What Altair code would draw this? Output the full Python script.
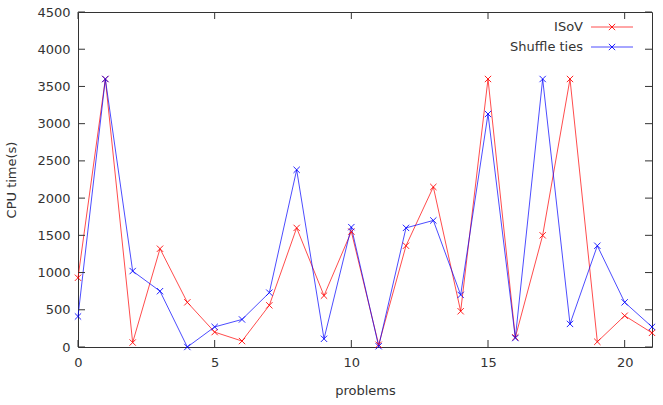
import altair as alt
import pandas as pd

# CPU time per problem for the two tie-breaking strategies
problems = list(range(22))
isov = [930, 3600, 60, 1320, 600, 200, 80, 560, 1600, 690, 1550,
        30, 1360, 2150, 480, 3600, 130, 1500, 3600, 70, 420, 190]
shuffle_ties = [410, 3600, 1020, 750, 0, 270, 370, 730, 2380, 110, 1610,
                10, 1600, 1700, 700, 3130, 120, 3600, 310, 1360, 600, 270]

series_names = ["ISoV", "Shuffle ties"]
series_colors = ["#ff0000", "#0000ff"]

x_ticks = [0, 5, 10, 15, 20]
y_ticks = [0, 500, 1000, 1500, 2000, 2500, 3000, 3500, 4000, 4500]

W, H = 574, 335
TICK = 7
FONT = "DejaVu Sans"
TEXT = "#333333"
XMARK = "M-1,-1L1,1M-1,1L1,-1"

df = pd.DataFrame({
    "problem": problems * 2,
    "time": isov + shuffle_ties,
    "series": [series_names[0]] * len(isov) + [series_names[1]] * len(shuffle_ties),
})

x_scale = alt.Scale(domain=[0, 21], nice=False, zero=False)
y_scale = alt.Scale(domain=[0, 4500], nice=False)
color_scale = alt.Scale(domain=series_names, range=series_colors)

x_enc = alt.X("problem:Q", scale=x_scale,
              axis=alt.Axis(values=x_ticks, title="problems", grid=False,
                            tickSize=0, domain=False, labelPadding=9,
                            titlePadding=15, format="d",
                            labelFlush=False, labelOverlap=False))
y_enc = alt.Y("time:Q", scale=y_scale,
              axis=alt.Axis(values=y_ticks, title="CPU time(s)", grid=False,
                            tickSize=0, domain=False, labelPadding=8,
                            titlePadding=18, format="d",
                            labelFlush=False, labelOverlap=False))
c_enc = alt.Color("series:N", scale=color_scale, legend=None)

base = alt.Chart(df)
lines = base.mark_line(strokeWidth=1, opacity=0.7).encode(x=x_enc, y=y_enc, color=c_enc)
points = base.mark_point(shape=XMARK, size=40, filled=False, strokeWidth=1,
                         opacity=0.85).encode(x=x_enc, y=y_enc, color=c_enc)

# Inward tick marks on all four sides of the frame
xt = alt.Chart(pd.DataFrame({"problem": x_ticks}))
yt = alt.Chart(pd.DataFrame({"time": y_ticks}))
tick_style = dict(color="#333333", strokeWidth=1)
ticks_bottom = xt.mark_rule(**tick_style).encode(
    x=x_enc, y=alt.value(H), y2=alt.value(H - TICK))
ticks_top = xt.mark_rule(**tick_style).encode(
    x=x_enc, y=alt.value(0), y2=alt.value(TICK))
ticks_left = yt.mark_rule(**tick_style).encode(
    y=y_enc, x=alt.value(0), x2=alt.value(TICK))
ticks_right = yt.mark_rule(**tick_style).encode(
    y=y_enc, x=alt.value(W - TICK), x2=alt.value(W))

# Key in the upper right corner: label, then a line sample with its marker
legend_layers = []
for i, (name, col) in enumerate(zip(series_names, series_colors)):
    ky = 15 + 20 * i
    row = alt.Chart(pd.DataFrame({"series": [name]}))
    legend_layers.append(row.mark_text(align="right", baseline="middle", font=FONT,
                                       fontSize=13, color=TEXT).encode(
        x=alt.value(505), y=alt.value(ky), text="series:N"))
    legend_layers.append(row.mark_rule(color=col, strokeWidth=1, opacity=0.7).encode(
        x=alt.value(513), x2=alt.value(555), y=alt.value(ky)))
    legend_layers.append(row.mark_point(shape=XMARK, size=40, filled=False,
                                        strokeWidth=1, color=col, opacity=0.85).encode(
        x=alt.value(534), y=alt.value(ky)))

chart = alt.layer(
    lines, points, ticks_bottom, ticks_top, ticks_left, ticks_right, *legend_layers
).properties(
    width=W, height=H,
    autosize=alt.AutoSizeParams(type="none"),
    padding={"left": 78, "top": 12, "right": 11, "bottom": 58},
    background="white",
).configure_view(
    stroke="#333333", strokeWidth=1
).configure_axis(
    labelFont=FONT, titleFont=FONT, labelFontSize=13, titleFontSize=13,
    labelColor=TEXT, titleColor=TEXT, titleFontWeight="normal",
)

chart.save("out.html", embed_options={"renderer": "svg", "actions": False})
